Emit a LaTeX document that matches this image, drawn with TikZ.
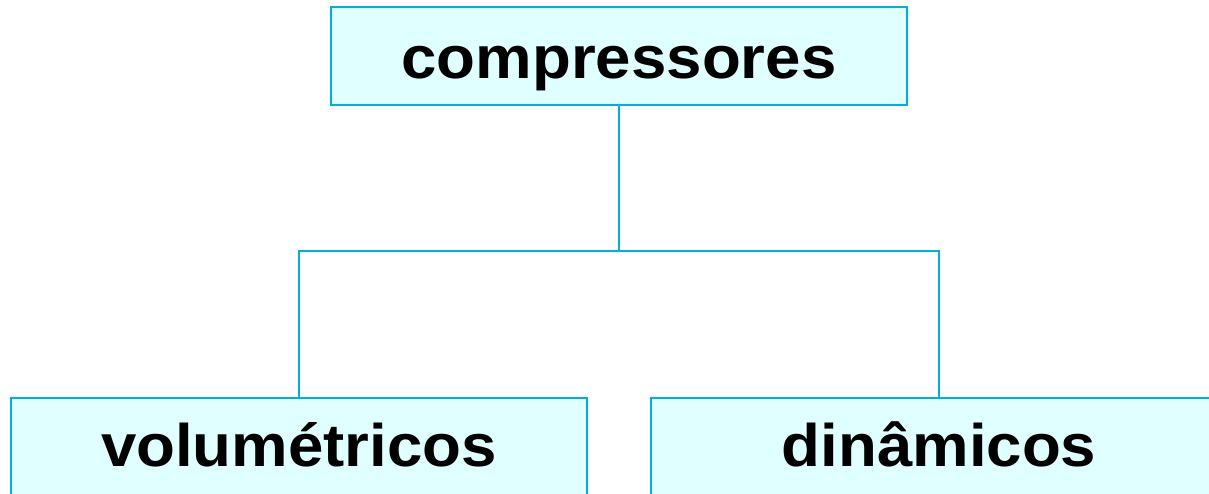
\documentclass[tikz,border=0pt]{standalone}
\usepackage{fontspec}
\setmainfont{Liberation Sans}[FakeStretch=1.06]
\definecolor{boxline}{HTML}{00B0D8}
\definecolor{boxfill}{HTML}{E0FFFF}
\begin{document}
\begin{tikzpicture}[x=1pt,y=1pt,
  catbox/.style={draw=boxline, fill=boxfill, line width=2pt, inner sep=0pt,
    minimum width=576pt, font=\fontsize{60}{72}\selectfont\bfseries, align=center},
  link/.style={draw=boxline, line width=2pt}]
\useasboundingbox (0,0) rectangle (1209,-493);
\clip (0,0) rectangle (1209,-493);
\fill[white] (0,0) rectangle (1209,-493);
\node[catbox, text height=71pt, text depth=27pt] (top) at (619,-56) {compressores};
\node[catbox, text height=68pt, text depth=30pt, anchor=north] (left) at (299,-397) {volumétricos};
\node[catbox, text height=68pt, text depth=30pt, anchor=north] (right) at (939,-397) {dinâmicos};
\coordinate (j) at (619,-251);
\draw[link] (top.south) -- (j);
\draw[link] (left.north) |- (j) -| (right.north);
\end{tikzpicture}
\end{document}
